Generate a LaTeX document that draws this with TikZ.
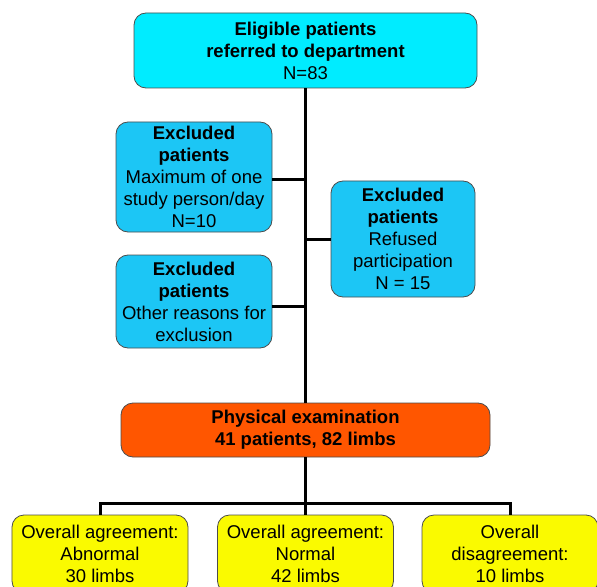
\documentclass[tikz,border=0pt]{standalone}
\usepackage{fontspec}
\setmainfont{Liberation Sans}
\usetikzlibrary{calc}

\definecolor{topcyan}{RGB}{0,236,255}
\definecolor{exblue}{RGB}{28,198,245}
\definecolor{examorange}{RGB}{255,86,0}
\definecolor{resyellow}{RGB}{250,250,0}

\begin{document}
\begin{tikzpicture}[x=1bp, y=-1bp, line width=3bp,
    main/.style = {draw=black!70, line width=0.8bp, rounded corners=12bp, align=center, inner sep=0pt,
                   font=\fontsize{18.5bp}{22bp}\selectfont}]
    \useasboundingbox (0,0) rectangle (597,587);

    \node [main, fill=topcyan, minimum width=343bp, minimum height=75bp] (top) at (305.5, 50.5)
        {\textbf{Eligible patients}\\ \textbf{referred to department}\\ N=83};
    \node [main, fill=exblue, minimum width=156bp, minimum height=110bp] (ex1) at (194, 177)
        {\textbf{Excluded}\\ \textbf{patients}\\ Maximum of one\\ study person/day\\ N=10};
    \node [main, fill=exblue, minimum width=144bp, minimum height=116bp] (ex2) at (403, 239)
        {\textbf{Excluded}\\ \textbf{patients}\\ Refused\\ participation\\ N = 15};
    \node [main, fill=exblue, minimum width=156bp, minimum height=93bp] (ex3) at (194, 301.5)
        {\textbf{Excluded}\\ \textbf{patients}\\ Other reasons for\\ exclusion};
    \node [main, fill=examorange, minimum width=369bp, minimum height=54bp] (exam) at (305.5, 430)
        {\textbf{Physical examination}\\ \textbf{41 patients, 82 limbs}};
    \node [main, fill=resyellow, minimum width=176bp, minimum height=78bp] (agr1) at (100, 554)
        {Overall agreement:\\ Abnormal\\ 30 limbs};
    \node [main, fill=resyellow, minimum width=176bp, minimum height=78bp] (agr2) at (305.5, 554)
        {Overall agreement:\\ Normal\\ 42 limbs};
    \node [main, fill=resyellow, minimum width=176bp, minimum height=78bp] (agr3) at (510, 554)
        {Overall\\ disagreement:\\ 10 limbs};
    \coordinate (split) at (305.5, 503);
    \coordinate (ex3out) at ($(ex3.east)+(0,4.5)$);

    \draw (top) -- (exam);
    \draw ($(ex1.east)+(0,2)$) -- ($(ex1.east -| top.south)+(0,2)$);
    \draw (ex2.west) -- (ex2.west -| top.south);
    \draw (ex3out) -- (ex3out -| top.south);
    \draw (exam) -- (split);
    \draw (split) -- (agr2);
    \draw (agr1.north) |- (split) -| (agr3.north);

\end{tikzpicture}
\end{document}
